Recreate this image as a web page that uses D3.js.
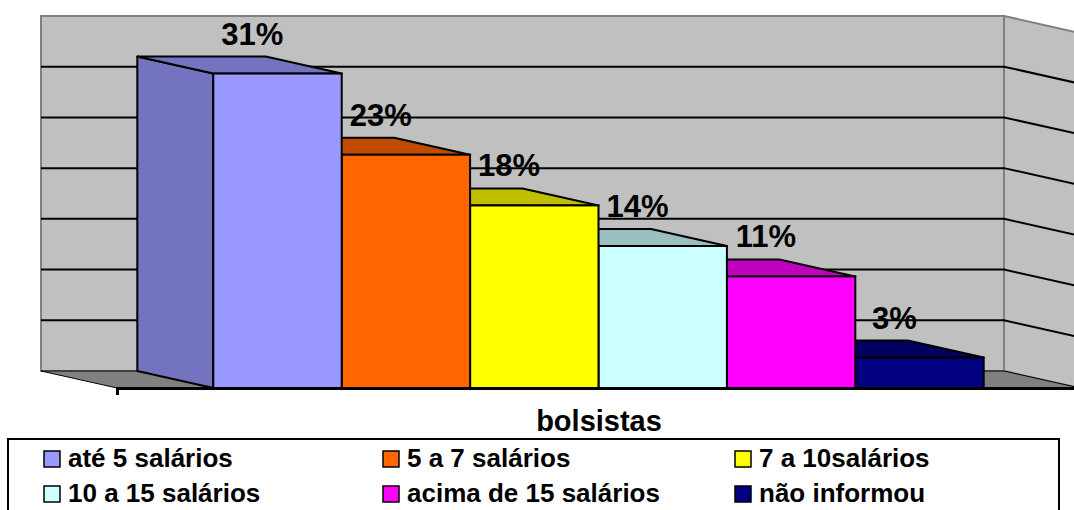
<!DOCTYPE html>
<html>
<head>
<meta charset="utf-8">
<script src="https://cdn.jsdelivr.net/npm/d3@7"></script>
<style>
    body { margin: 0; background: #ffffff; }
    svg { display: block; font-family: "Liberation Sans", Arial, sans-serif; }
</style>
</head>
<body>
<div class="chart__container"></div>
<script>
//data
const CATEGORIES = ["até 5 salários", "5 a 7 salários", "7 a 10salários", "10 a 15 salários", "acima de 15 salários", "não informou"];
const VALUES = [31, 23, 18, 14, 11, 3];
const VALUE_LABELS = ["31%", "23%", "18%", "14%", "11%", "3%"];
const FRONT_COLORS = ["#9999FF", "#FF6600", "#FFFF00", "#CCFFFF", "#FF00FF", "#000080"];
const TOP_COLORS = ["#7373BF", "#BF4C00", "#BFBF00", "#99BFBF", "#BF00BF", "#000060"];
const GRID_TICKS = [0, 5, 10, 15, 20, 25, 30, 35];
const AXIS_TITLE = "bolsistas";

const CHART__WIDTH = 1074;
const CHART__HEIGHT = 510;

//3d offset of the back plane compared to the front plane
const DEPTH = { dx: -76, dy: -17 };

const PLOT = {
    left: 117,
    right: 1080,
    bottom: 388,
    top: 33
}

/*-----------------------------------scales-----------------------------------*/

const xScale = d3.scaleBand()
    .domain(CATEGORIES)
    .range([PLOT.left, PLOT.right])
    .paddingInner(0)
    .paddingOuter(0.75);

const yScale = d3.scaleLinear()
    .domain([0, d3.max(GRID_TICKS)])
    .range([PLOT.bottom, PLOT.top]);

//project a front plane point to the back plane
const back = (p) => [p[0] + DEPTH.dx, p[1] + DEPTH.dy];
const poly = (pts) => pts.map(p => p.join(",")).join(" ");

/*-----------------------------------svg-----------------------------------*/

const svg = d3.select(".chart__container").append("svg")
    .attr("width", CHART__WIDTH)
    .attr("height", CHART__HEIGHT);

const yMax = d3.max(GRID_TICKS);

//back wall
const bwTL = back([PLOT.left, yScale(yMax)]);
const bwBR = back([PLOT.right, yScale(0)]);
svg.append("rect")
    .attr("x", bwTL[0])
    .attr("y", bwTL[1])
    .attr("width", bwBR[0] - bwTL[0])
    .attr("height", bwBR[1] - bwTL[1])
    .attr("fill", "#C0C0C0")
    .attr("stroke", "#808080")
    .attr("stroke-width", 2);

//right side wall
svg.append("polygon")
    .attr("points", poly([
        back([PLOT.right, yScale(yMax)]),
        [PLOT.right, yScale(yMax)],
        [PLOT.right, yScale(0)],
        back([PLOT.right, yScale(0)])
    ]))
    .attr("fill", "#C0C0C0")
    .attr("stroke", "#808080")
    .attr("stroke-width", 2);

//gridlines on both walls
const grid = svg.append("g").attr("class", "grid");
GRID_TICKS.filter(t => t > 0 && t < yMax).forEach(t => {
    const a = back([PLOT.left, yScale(t)]);
    const b = back([PLOT.right, yScale(t)]);
    const c = [PLOT.right, yScale(t)];
    grid.append("polyline")
        .attr("points", poly([a, b, c]))
        .attr("fill", "none")
        .attr("stroke", "#000000")
        .attr("stroke-width", 2);
});

//floor
svg.append("polygon")
    .attr("points", poly([
        back([PLOT.left, yScale(0)]),
        back([PLOT.right, yScale(0)]),
        [PLOT.right, yScale(0)],
        [PLOT.left, yScale(0)]
    ]))
    .attr("fill", "#808080")
    .attr("stroke", "#000000")
    .attr("stroke-width", 1);

//bars, drawn right to left so the nearer ones cover the others
const bars = svg.append("g").attr("class", "bars");
const order = d3.range(CATEGORIES.length).reverse();

order.forEach(i => {
    const x0 = xScale(CATEGORIES[i]);
    const x1 = x0 + xScale.bandwidth();
    const yt = yScale(VALUES[i]);
    const yb = yScale(0);
    const g = bars.append("g");

    //left side
    g.append("polygon")
        .attr("points", poly([back([x0, yt]), [x0, yt], [x0, yb], back([x0, yb])]))
        .attr("fill", TOP_COLORS[i])
        .attr("stroke", "#000")
        .attr("stroke-width", 2)
        .attr("stroke-linejoin", "round");

    //top
    g.append("polygon")
        .attr("points", poly([back([x0, yt]), back([x1, yt]), [x1, yt], [x0, yt]]))
        .attr("fill", TOP_COLORS[i])
        .attr("stroke", "#000")
        .attr("stroke-width", 2)
        .attr("stroke-linejoin", "round");

    //front
    g.append("rect")
        .attr("x", x0)
        .attr("y", yt)
        .attr("width", x1 - x0)
        .attr("height", yb - yt)
        .attr("fill", FRONT_COLORS[i])
        .attr("stroke", "#000")
        .attr("stroke-width", 2);
});

//category axis line with its single tick
const xAxisScale = d3.scaleLinear().domain([0, 1]).range([PLOT.left, PLOT.right]);
const abscissa = d3.axisBottom(xAxisScale).tickValues([0]).tickFormat("").tickSizeOuter(0).tickSize(7);
const xAxis = svg.append("g")
    .attr("transform", `translate(0,${PLOT.bottom})`)
    .call(abscissa);
xAxis.select(".domain").attr("stroke", "#000").attr("stroke-width", 3);
xAxis.selectAll(".tick line").attr("stroke", "#000").attr("stroke-width", 2);

//value labels
svg.append("g").selectAll("text")
    .data(VALUES)
    .enter()
    .append("text")
    .attr("x", (d, i) => xScale(CATEGORIES[i]) + 39)
    .attr("y", d => yScale(d) + DEPTH.dy - 12)
    .attr("text-anchor", "middle")
    .attr("font-size", 31)
    .attr("font-weight", "bold")
    .attr("fill", "#000")
    .text((d, i) => VALUE_LABELS[i]);

//axis title
svg.append("text")
    .attr("x", 599)
    .attr("y", 431)
    .attr("text-anchor", "middle")
    .attr("font-size", 29)
    .attr("font-weight", "bold")
    .text(AXIS_TITLE);

/*-----------------------------------legend-----------------------------------*/

svg.append("rect")
    .attr("x", 8)
    .attr("y", 439)
    .attr("width", 1051)
    .attr("height", 80)
    .attr("fill", "#fff")
    .attr("stroke", "#000")
    .attr("stroke-width", 2);

const LEGEND_COLS = [44, 383, 735];
const LEGEND_ROWS = [451, 486];

const legend = svg.append("g").selectAll("g")
    .data(CATEGORIES)
    .enter()
    .append("g")
    .attr("transform", (d, i) => `translate(${LEGEND_COLS[i % 3]},${LEGEND_ROWS[Math.floor(i / 3)]})`);

legend.append("rect")
    .attr("width", 16)
    .attr("height", 16)
    .attr("fill", (d, i) => FRONT_COLORS[i])
    .attr("stroke", "#000")
    .attr("stroke-width", 1.5);

legend.append("text")
    .attr("x", 24)
    .attr("y", 16)
    .attr("font-size", 26)
    .attr("font-weight", "bold")
    .text(d => d);
</script>
</body>
</html>
